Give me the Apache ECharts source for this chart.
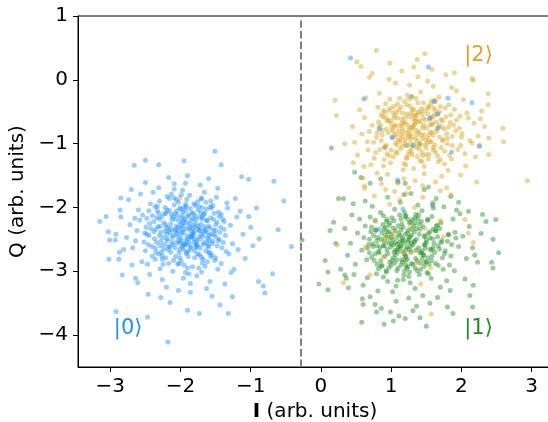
<!DOCTYPE html>
<html><head><meta charset="utf-8">
<script src="https://cdn.jsdelivr.net/npm/echarts@6/dist/echarts.min.js"></script>
<style>html,body{margin:0;padding:0;background:#fff}#c{width:548px;height:422px}</style>
</head><body><div id="c"></div>
<script>
// ---- data ----
const xTicks = [-3, -2, -1, 0, 1, 2, 3];
const yTicks = [-4, -3, -2, -1, 0, 1];
const threshold = -0.29;
const ketLabels = ['|0\u27E9', '|1\u27E9', '|2\u27E9'];
const ketPos = [[-2.95, -3.9], [2.04, -3.9], [2.04, 0.38]];

// |0> (blue)
const zeroPts = [
[-1.51,-1.12],[-2.50,-1.26],[-2.66,-1.34],[-1.95,-1.27],[-2.31,-1.33],[-3.15,-2.22],[-3.06,-2.14],[-3.03,-2.38],[-3.02,-2.81],[-2.83,-3.06],
[-2.92,-3.63],[-2.18,-4.11],[-2.47,-3.72],[-1.90,-3.61],[-1.73,-3.66],[-1.32,-3.66],[-1.44,-3.53],[-0.80,-3.34],[-0.69,-3.04],[-0.42,-2.61],
[-0.53,-1.90],[-0.67,-1.59],[-0.61,-2.35],[-1.03,-1.56],[-1.42,-1.33],[-1.13,-1.52],[-0.89,-3.16],[-0.82,-3.23],[-1.26,-3.40],[-2.46,-3.36],
[-2.64,-3.11],[-2.28,-3.41],[-2.15,-3.49],[-2.87,-2.70],[-3.01,-2.51],[-2.93,-2.51],[-2.85,-2.15],[-2.85,-1.85],[-2.70,-1.72],
[-1.87,-2.31],[-2.05,-2.12],[-1.62,-2.48],[-1.95,-2.66],[-2.21,-2.27],[-1.74,-1.98],[-1.53,-2.35],[-2.12,-2.54],[-1.80,-2.79],[-2.33,-2.05],
[-1.69,-2.18],[-1.98,-2.41],[-2.41,-2.61],[-1.46,-2.07],[-1.91,-1.87],[-2.17,-2.88],[-1.58,-2.71],[-2.02,-2.22],[-1.77,-2.52],[-2.28,-2.39],
[-1.36,-2.44],[-1.84,-2.09],[-2.09,-1.96],[-1.65,-2.92],[-2.49,-2.31],[-1.94,-2.57],[-1.71,-2.26],[-2.14,-2.70],[-1.49,-1.84],[-2.36,-2.81],
[-1.82,-2.44],[-2.01,-2.01],[-1.57,-2.16],[-2.25,-2.47],[-1.88,-3.04],[-1.66,-1.76],[-2.07,-2.36],[-1.41,-2.63],[-2.54,-2.12],[-1.73,-2.37],
[-2.19,-1.83],[-1.92,-2.24],[-1.55,-2.57],[-2.31,-2.73],[-1.79,-2.13],[-2.04,-2.89],[-1.63,-2.03],[-2.45,-2.44],[-1.86,-2.61],[-1.29,-2.28],
[-2.11,-2.15],[-1.68,-2.45],[-1.97,-1.73],[-2.38,-2.22],[-1.51,-2.83],[-1.83,-2.33],[-2.23,-2.58],[-1.60,-2.29],[-2.00,-2.48],[-1.76,-1.91],
[-2.62,-2.36],[-1.89,-2.77],[-1.44,-2.39],[-2.16,-2.05],[-1.72,-2.64],[-2.06,-2.29],[-1.33,-2.01],[-2.29,-2.96],[-1.94,-2.18],[-1.59,-2.51],
[-2.43,-1.94],[-1.81,-2.40],[-2.08,-2.63],[-1.67,-2.11],[-1.99,-2.84],[-2.35,-2.34],[-1.54,-1.97],[-1.85,-2.20],[-2.20,-2.42],[-1.70,-3.01],
[-1.93,-1.95],[-2.52,-2.54],[-1.39,-2.55],[-2.03,-2.31],[-1.78,-2.57],[-2.27,-2.14],[-1.61,-2.40],[-1.96,-3.11],[-2.13,-1.79],[-1.48,-2.23],
[-1.90,-2.49],[-2.40,-2.76],[-1.75,-2.04],[-2.10,-2.44],[-1.64,-2.68],[-2.22,-2.00],[-1.86,-2.36],[-1.42,-2.88],[-2.58,-2.20],[-1.97,-2.60],
[-1.72,-2.33],[-2.15,-2.62],[-1.57,-1.90],[-2.00,-2.16],[-1.83,-2.93],[-2.37,-2.49],[-1.50,-2.46],[-2.06,-1.88],[-1.79,-2.25],[-2.26,-2.81],
[-1.26,-2.57],[-1.95,-2.35],[-2.45,-2.05],[-1.66,-2.55],[-2.11,-3.00],[-1.87,-1.81],[-1.55,-2.75],[-2.32,-2.30],[-1.74,-2.46],[-2.02,-2.71],
[-2.68,-2.63],[-1.82,-2.17],[-1.45,-2.14],[-2.18,-2.37],[-1.91,-2.70],[-1.63,-2.20],[-2.30,-1.90],[-1.99,-2.52],[-1.69,-2.87],[-2.48,-2.42],
[-1.35,-2.69],[-2.08,-2.09],[-1.78,-2.62],[-2.24,-2.65],[-1.58,-2.32],[-1.93,-2.05],[-2.55,-2.85],[-1.71,-1.87],[-2.04,-2.45],[-1.47,-2.97],
[-2.14,-2.26],[-1.86,-3.19],[-1.60,-2.62],[-2.34,-2.16],[-1.97,-2.39],[-1.20,-2.15],[-2.72,-2.27],[-1.76,-2.73],[-2.09,-1.71],[-1.52,-2.09],
[-1.88,-2.54],[-2.21,-2.79],[-1.67,-2.37],[-2.42,-2.33],[-1.81,-1.94],[-2.01,-2.66],[-1.38,-2.34],[-2.28,-2.53],[-1.73,-2.15],[-1.95,-2.90],
[-2.60,-2.04],[-1.54,-2.53],[-2.12,-2.19],[-1.84,-2.47],[-1.31,-2.73],[-2.36,-2.64],[-1.69,-2.00],[-2.05,-2.56],[-1.89,-2.12],[-2.47,-2.89],
[-1.62,-2.85],[-1.99,-2.27],[-2.19,-2.49],[-1.45,-2.50],[-1.80,-2.68],[-2.33,-1.98],[-1.75,-2.29],[-2.64,-2.52],[-1.92,-1.98],[-1.56,-2.42],
[-2.26,-3.13],[-1.11,-2.42],[-1.97,-2.13],[-2.07,-2.77],[-1.68,-2.58],[-2.40,-2.13],[-1.85,-2.64],[-1.50,-2.27],[-2.16,-2.32],[-1.77,-3.07],
[-2.03,-2.38],[-1.64,-1.92],[-2.29,-2.60],[-1.40,-2.18],[-1.91,-2.44],[-2.50,-2.68],[-1.81,-2.55],[-2.23,-2.10],[-1.70,-2.78],[-1.99,-2.02],
[-1.18,-2.66],[-2.77,-2.47],[-1.58,-3.16],[-2.09,-1.63],[-1.34,-1.93],[-2.44,-3.05],[-1.00,-2.31],[-2.86,-2.04],[-1.93,-1.62],[-1.63,-3.27],
[-2.57,-1.79],[-1.22,-1.86],[-2.69,-2.90],[-1.08,-2.80],[-2.20,-3.25],[-1.47,-1.70],[-2.81,-2.66],[-1.72,-1.65],[-2.39,-1.76],[-1.28,-3.02],
[-1.15,-2.06],[-2.61,-3.18],[-1.86,-3.33],[-2.92,-2.42],[-0.97,-2.60],[-2.31,-1.69],[-1.55,-3.39],[-1.03,-2.14],[-2.74,-1.88],[-2.03,-3.30],
[-1.24,-2.97],[-1.90,-1.50],[-2.50,-1.61],[-0.92,-2.01],[-2.17,-1.53],[-1.60,-1.55],[-2.88,-2.81],[-1.37,-3.20],[-0.88,-2.49],[-2.65,-2.17],
[-1.83,-2.28],[-2.00,-2.33],[-1.70,-2.42],[-1.92,-2.51],[-2.15,-2.40],[-1.78,-2.19],[-1.61,-2.60],[-2.07,-2.18],[-1.88,-2.68],[-2.24,-2.24],
[-1.66,-2.30],[-1.97,-2.07],[-2.30,-2.44],[-1.52,-2.42],[-1.86,-2.02],[-2.10,-2.83],[-1.73,-2.74],[-1.96,-2.29],[-1.80,-2.50],[-2.19,-2.52],
[-1.43,-2.31],[-1.89,-2.14],[-2.05,-2.05],[-1.68,-2.81],[-2.38,-2.38],[-1.98,-2.62],[-1.75,-2.35],[-2.17,-2.61],[-1.56,-2.01],[-2.27,-2.70],
[-1.85,-2.45],[-2.03,-1.92],[-1.62,-2.21],[-2.20,-2.31],[-1.90,-2.95],[-1.70,-1.85],[-2.12,-2.47],[-1.48,-2.60],[-2.44,-2.25],[-1.79,-2.31],
[-2.09,-1.85],[-1.95,-2.20],[-1.59,-2.45],[-2.26,-2.76],[-1.82,-2.09],[-2.01,-2.79],[-1.66,-2.09],[-2.34,-2.55],[-1.90,-2.58],[-1.38,-2.22],
[-2.13,-2.11],[-1.72,-2.50],[-1.99,-1.80],[-2.30,-2.18],[-1.57,-2.77],[-1.81,-2.38],[-2.18,-2.66],[-1.64,-2.34],[-2.04,-2.52],[-1.79,-1.97],
[-2.51,-2.40],[-1.92,-2.72],[-1.50,-2.36],[-2.21,-2.09],[-1.76,-2.59],[-2.08,-2.34],[-1.42,-2.11],[-2.25,-2.89],[-1.97,-2.23],[-1.62,-2.55],
[-2.36,-1.99],[-1.84,-2.42],[-2.11,-2.58],[-1.69,-2.15],[-2.02,-2.88],[-2.29,-2.30],[-1.58,-1.99],[-1.88,-2.25],[-2.22,-2.37],[-1.74,-2.95],
[-1.94,-2.00],[-2.46,-2.58],[-1.46,-2.52],[-2.06,-2.41],[-1.77,-2.61],[-2.31,-2.09],[-1.65,-2.38],[-1.93,-3.02],[-2.16,-1.86],[-1.53,-2.19],
[-1.86,-2.46],[-2.35,-2.70],[-1.71,-2.08],[-2.13,-2.35],[-1.60,-2.71],[-2.19,-2.04],[-1.90,-2.33],[-1.50,-2.79],[-2.48,-2.17],[-2.00,-2.55],
[0.42,0.34],[1.53,0.20],[0.61,-0.30],[1.81,-0.29],[2.15,-0.36],[1.61,-0.34],[0.83,-0.77],[1.67,-0.75],[2.26,-1.03],[1.01,-0.90],
[1.66,-0.54],[1.86,-1.13],[1.09,-1.57],[1.31,-1.03],[1.55,-0.60],[1.59,-1.97],[1.17,-2.03],[0.83,-2.34]
];

// |1> (green)
const onePts = [
[-0.03,-3.20],[0.10,-3.29],[0.06,-2.83],[0.18,-2.23],[0.13,-2.36],[0.21,-2.56],[0.58,-3.80],[0.90,-3.83],[1.03,-3.78],[1.50,-3.86],
[1.41,-3.73],[1.88,-3.66],[2.16,-3.56],[1.80,-3.56],[2.45,-2.95],[2.43,-2.86],[2.53,-2.71],[2.45,-2.50],[2.49,-2.19],[2.30,-2.11],
[2.19,-2.75],[2.17,-3.22],[2.10,-2.06],[1.96,-1.92],[0.25,-1.86],[0.32,-1.86],[0.46,-1.94],[0.48,-1.45],[0.57,-1.53],[0.60,-3.52],
[0.59,-3.43],[0.79,-3.64],[1.20,-3.74],[0.34,-3.06],[0.36,-3.11],[0.39,-3.26],[0.10,-3.01],
[-0.27,-2.51],[-1.94,-2.58],[0.15,-1.07],[0.91,-1.06],[1.41,-1.00],[1.29,-0.26],[1.22,-1.03],[1.53,-1.68],[0.85,-1.55],[1.10,-1.60],
[1.20,-1.62],[0.70,-1.62],
[1.18,-2.56],[0.97,-2.38],[1.41,-2.71],[1.05,-2.87],[1.32,-2.29],[0.84,-2.63],[1.55,-2.48],[1.12,-2.12],[1.26,-3.01],[0.91,-2.77],
[1.47,-2.92],[1.02,-2.51],[1.67,-2.60],[0.75,-2.44],[1.23,-2.81],[1.38,-2.18],[0.89,-3.09],[1.60,-2.34],[1.09,-2.66],[1.29,-2.43],
[0.68,-2.58],[1.52,-2.79],[1.15,-2.26],[0.94,-2.19],[1.80,-2.53],[1.34,-2.95],[1.06,-2.74],[1.44,-2.05],[0.80,-2.89],[1.21,-2.66],
[1.63,-2.88],[0.99,-2.62],[1.36,-2.50],[0.72,-2.31],[1.27,-3.18],[1.71,-2.24],[1.11,-2.41],[0.86,-2.50],[1.49,-2.64],[1.19,-2.08],
[0.93,-2.99],[1.58,-2.14],[1.03,-2.32],[1.40,-3.05],[0.77,-2.73],[1.85,-2.76],[1.24,-2.36],[1.14,-2.90],[0.61,-2.47],[1.53,-2.41],
[1.31,-2.59],[0.88,-2.27],[1.74,-2.97],[1.08,-2.99],[1.45,-2.30],[0.96,-2.55],[1.66,-2.46],[1.20,-2.77],[0.70,-2.15],[1.37,-2.84],
[1.01,-2.16],[1.57,-3.11],[1.16,-2.48],[0.82,-2.96],[1.91,-2.39],[1.28,-2.70],[0.65,-2.82],[1.50,-2.55],[1.07,-3.23],[1.35,-2.11],
[1.77,-2.68],[0.92,-2.44],[1.22,-2.95],[1.62,-2.70],[0.74,-2.57],[1.43,-2.22],[1.13,-2.62],[0.98,-2.86],[1.96,-2.61],[1.25,-2.51],
[0.85,-2.08],[1.54,-2.89],[1.04,-2.70],[1.69,-2.33],[1.30,-2.19],[0.58,-2.67],[1.17,-3.13],[1.46,-2.74],[0.90,-2.34],[2.02,-2.45],
[1.10,-2.29],[1.39,-2.63],[0.79,-3.04],[1.60,-2.01],[1.20,-2.42],[0.95,-3.16],[1.83,-2.90],[1.33,-2.38],[0.71,-2.38],[1.51,-3.02],
[1.26,-2.24],[0.83,-2.71],[1.72,-2.52],[1.05,-2.03],[1.42,-2.97],[0.63,-2.29],[1.15,-2.82],[1.88,-2.18],[1.00,-2.47],[1.56,-2.65],
[1.34,-3.27],[0.87,-2.40],[1.64,-2.37],[1.21,-2.13],[0.76,-2.83],[1.47,-2.46],[1.09,-2.58],[2.07,-2.80],[1.29,-2.88],[0.94,-2.66],
[0.52,-2.40],[1.79,-3.15],[1.38,-1.96],[0.66,-3.10],[2.11,-2.30],[1.02,-3.32],[1.59,-1.94],[0.49,-2.89],[1.90,-2.99],[1.13,-1.92],
[0.81,-3.31],[1.70,-3.25],[0.55,-2.18],[2.16,-2.63],[1.25,-3.42],[0.73,-1.98],[1.45,-3.38],[1.98,-2.10],[0.42,-2.56],[1.07,-3.47],
[1.64,-1.86],[0.60,-3.22],[2.23,-2.86],[0.95,-1.84],[1.84,-3.30],[0.38,-2.75],[1.36,-3.55],[1.75,-1.99],[0.70,-3.40],[1.18,-1.80],
[2.28,-2.41],[0.47,-3.05],[1.55,-3.50],[0.86,-3.58],[1.93,-2.04],[1.28,-1.78],[0.34,-2.33],[2.05,-3.12],[0.99,-3.64],[1.66,-3.41],
[0.44,-2.12],[1.11,-3.70],[2.35,-2.22],[0.63,-1.90],[1.47,-1.72],[0.28,-2.97],[2.12,-3.38],[0.77,-3.52],[1.85,-1.83],[1.31,-3.62],
[1.14,-2.35],[1.49,-2.86],[0.90,-2.60],[1.27,-2.61],[1.61,-2.56],[1.03,-2.79],[1.40,-2.42],[0.80,-2.52],[1.19,-2.99],[1.73,-2.79],
[0.97,-2.28],[1.33,-2.52],[1.52,-2.20],[0.69,-2.71],[1.23,-2.18],[1.08,-2.47],[1.44,-2.80],[0.87,-2.91],[1.66,-2.28],[1.16,-2.69],
[1.36,-2.33],[0.78,-2.36],[1.58,-2.76],[1.00,-2.90],[1.25,-2.47],[1.12,-2.54],[1.81,-2.43],[0.93,-2.22],[1.48,-2.58],[1.20,-2.83],
[1.15,-2.52],[1.00,-2.42],[1.36,-2.67],[1.08,-2.82],[1.29,-2.34],[0.89,-2.60],[1.50,-2.51],[1.14,-2.18],[1.24,-2.93],[0.95,-2.72],
[1.42,-2.87],[1.06,-2.55],[1.60,-2.63],[0.81,-2.47],[1.21,-2.76],[1.34,-2.24],[0.93,-3.01],[1.55,-2.38],[1.11,-2.63],[1.27,-2.46],
[0.74,-2.61],[1.46,-2.75],[1.17,-2.31],[0.98,-2.24],[1.71,-2.55],[1.31,-2.89],[1.09,-2.70],[1.39,-2.12],[0.85,-2.84],[1.22,-2.62],
[1.57,-2.83],[1.03,-2.59],[1.33,-2.54],[0.78,-2.35],[1.25,-3.08],[1.64,-2.29],[1.13,-2.44],[0.90,-2.53],[1.44,-2.68],[1.20,-2.14],
[0.97,-2.94],[1.52,-2.19],[1.06,-2.36],[1.37,-2.99],[0.82,-2.69],[1.76,-2.72],[1.23,-2.40],[1.16,-2.86],[0.69,-2.50],[1.48,-2.44],
[1.29,-2.56],[0.92,-2.31],[1.67,-2.91],[1.10,-2.95],[1.41,-2.34],[1.00,-2.57],[1.59,-2.49],[1.19,-2.73],[0.77,-2.20],[1.35,-2.80],
[1.04,-2.21],[1.53,-3.04],[1.18,-2.51],[0.86,-2.92],[1.82,-2.42],[1.26,-2.66],[0.72,-2.78],[1.47,-2.59],[1.09,-3.14],[1.34,-2.16],
[1.69,-2.65],[0.95,-2.47],[1.21,-2.90],[1.57,-2.67],[0.80,-2.60],[1.40,-2.26],[1.14,-2.60],[1.01,-2.83],[1.86,-2.58],[1.24,-2.54],
[0.89,-2.13],[1.50,-2.85],[1.06,-2.67],[1.63,-2.36],[1.28,-2.23],[0.66,-2.64],[1.18,-3.06],[1.43,-2.71],[0.94,-2.38],[1.92,-2.48]
];

// |2> (orange)
const twoPts = [
[0.79,0.46],[0.20,-0.32],[0.22,-0.56],[0.34,-1.00],[0.51,0.28],[0.57,0.21],[0.98,0.26],[1.37,0.32],[1.48,0.41],[2.59,-0.76],
[2.60,-0.97],[2.39,-1.17],[2.39,-0.91],[2.94,-1.58],[2.22,-1.60],[2.38,-0.39],[2.17,-0.01],[2.15,0.02],[0.46,-1.30],[0.60,-1.54],
[0.62,-1.66],[1.79,-1.69],
[0.32,-3.18],[1.57,-3.67],[2.17,-2.55],[2.10,-2.40],[2.05,-2.19],[1.74,-2.46],[0.70,-3.06],[0.23,-2.59],[-2.01,-1.85],
[0.76,-1.82],[1.12,-1.88],[1.45,-1.84],[1.60,-1.92],[0.98,-1.95],[1.33,-2.00],[1.85,-1.80],[0.62,-1.70],[1.25,-1.69],[1.05,-1.75],
[1.01,-2.44],[0.91,-2.49],[1.18,-2.71],[1.33,-2.68],[1.38,-2.87],[1.48,-2.33],[1.27,-2.31],[1.04,-2.40],[0.78,-2.22],[1.56,-2.95],
[0.88,-2.78],[1.70,-2.20],[0.63,-2.62],[1.42,-3.20],
[1.33,-0.78],[1.15,-0.62],[1.52,-0.91],[1.08,-1.02],[1.61,-0.55],[1.27,-0.41],[0.96,-0.83],[1.44,-1.14],[1.72,-0.74],[1.20,-0.95],
[1.39,-0.66],[0.88,-0.58],[1.57,-0.33],[1.03,-1.21],[1.80,-1.00],[1.24,-0.71],[1.48,-0.48],[0.79,-0.90],[1.66,-1.19],[1.11,-0.47],
[1.36,-1.06],[1.93,-0.63],[1.01,-0.75],[1.55,-0.71],[1.18,-1.31],[0.92,-0.37],[1.70,-0.42],[1.29,-0.89],[1.46,-0.60],[1.06,-0.99],
[2.01,-0.84],[1.22,-0.53],[0.84,-1.09],[1.62,-1.02],[1.35,-0.29],[1.13,-0.86],[1.78,-0.58],[0.99,-0.64],[1.41,-1.27],[1.58,-0.82],
[1.26,-1.12],[0.73,-0.71],[1.87,-0.89],[1.09,-0.38],[1.50,-1.07],[1.31,-0.61],[1.68,-0.27],[0.94,-1.16],[1.21,-0.83],[1.83,-1.18],
[1.43,-0.45],[1.05,-0.56],[1.64,-0.66],[0.87,-0.79],[1.37,-0.96],[2.08,-0.52],[1.17,-1.41],[1.53,-1.24],[0.97,-0.48],[1.74,-0.94],
[1.28,-0.52],[1.60,-0.87],[0.81,-0.43],[1.12,-0.72],[1.95,-1.09],[1.40,-0.83],[1.02,-0.91],[1.69,-0.50],[1.23,-0.24],[1.47,-1.36],
[0.90,-1.25],[1.56,-0.39],[1.16,-1.04],[1.89,-0.71],[1.34,-0.68],[0.75,-0.98],[1.63,-1.13],[1.19,-0.34],[2.12,-0.95],[1.45,-0.75],
[1.00,-0.69],[1.76,-1.32],[1.30,-1.18],[0.86,-0.55],[1.59,-0.58],[1.14,-0.93],[1.82,-0.39],[1.38,-0.51],[0.69,-0.81],[1.51,-0.99],
[1.25,-0.87],[1.97,-0.76],[1.07,-1.13],[1.65,-0.81],[0.93,-1.03],[1.42,-0.19],[1.19,-0.60],[2.05,-1.16],[1.32,-1.39],[0.82,-0.66],
[1.54,-1.17],[1.10,-0.80],[1.73,-0.64],[1.36,-0.85],[0.98,-0.30],[1.85,-0.55],[1.27,-1.00],[1.61,-0.44],[0.89,-1.35],[1.44,-0.92],
[1.08,-0.51],[2.18,-0.68],[1.49,-0.63],[0.78,-1.14],[1.35,-0.56],[1.79,-0.85],[1.16,-0.76],[1.67,-1.28],[0.95,-0.63],[1.40,-1.02],
[1.22,-1.23],[1.58,-0.70],[0.66,-0.97],[1.90,-0.46],[1.31,-0.73],[1.04,-0.42],[1.71,-1.06],[1.46,-0.36],[0.85,-0.71],[2.24,-0.88],
[1.13,-1.08],[1.52,-0.53],[1.28,-0.93],[0.91,-0.51],[1.76,-0.77],[1.37,-1.20],[1.05,-0.85],[1.99,-1.03],[1.63,-0.34],[1.20,-0.67],
[0.76,-1.23],[1.43,-0.87],[1.86,-1.24],[1.12,-0.29],[1.55,-0.97],[0.99,-1.30],[1.30,-0.46],[2.10,-0.60],[1.68,-0.71],[1.24,-1.17],
[0.62,-0.59],[1.47,-1.47],[0.83,-0.21],[2.03,-0.31],[1.18,-1.55],[1.81,-1.42],[0.71,-1.33],[1.60,-0.10],[1.34,-1.58],[2.20,-1.21],
[0.58,-0.85],[1.06,-0.05],[1.93,-0.17],[0.95,-1.48],[2.29,-0.49],[1.52,-0.02],[0.67,-1.10],[1.26,-0.08],[1.72,-1.51],[2.15,-0.99],
[0.55,-0.47],[1.38,0.05],[0.80,-1.46],[2.33,-0.73],[1.09,-1.62],[1.86,-0.12],[0.64,-0.28],[1.63,-1.60],[2.06,-1.35],[0.97,0.01],
[1.45,-1.66],[0.73,0.10],[2.25,-1.05],[0.52,-1.18],[1.78,0.08],[1.15,0.14],[2.38,-0.22],[0.86,-1.63],[1.58,0.16],[0.45,-0.73],
[1.99,-1.49],[1.21,-1.78],[0.61,-1.36],[2.27,-0.61],[0.69,0.04],[1.32,0.20],[1.90,0.11],[0.92,-1.72],[1.70,-1.74],[0.48,-0.98],
[1.30,-0.74],[1.18,-0.68],[1.47,-0.86],[1.12,-0.97],[1.56,-0.60],[1.32,-0.47],[1.02,-0.80],[1.40,-1.08],[1.65,-0.77],[1.24,-0.90],
[1.36,-0.62],[0.95,-0.65],[1.53,-0.42],[1.08,-1.15],[1.73,-0.95],[1.27,-0.76],[1.44,-0.53],[0.87,-0.86],[1.60,-1.10],[1.16,-0.52],
[1.33,-1.01],[1.84,-0.67],[1.06,-0.71],[1.50,-0.76],[1.22,-1.22],[0.99,-0.44],[1.63,-0.48],[1.27,-0.84],[1.42,-0.65],[1.10,-0.94],
[1.92,-0.80],[1.25,-0.58],[0.91,-1.04],[1.57,-0.97],[1.38,-0.36],[1.16,-0.81],[1.71,-0.62],[1.04,-0.60],[1.45,-1.19],[1.54,-0.86],
[1.29,-1.06],[0.83,-0.74],[1.80,-0.92],[1.14,-0.43],[1.48,-1.02],[1.34,-0.64],[1.62,-0.32],[1.00,-1.10],[1.25,-0.79],[1.76,-1.12],
[1.41,-0.50],[1.09,-0.60],[1.59,-0.69],[0.93,-0.77],[1.35,-0.92],[1.98,-0.57],[1.21,-1.33],[1.50,-1.17],[1.03,-0.52],[1.69,-0.90],
[1.31,-0.55],[1.56,-0.82],[0.89,-0.48],[1.15,-0.69],[1.87,-1.03],[1.38,-0.80],[1.06,-0.88],[1.66,-0.53],[1.26,-0.30],[1.44,-1.28],
[0.97,-1.19],[1.53,-0.45],[1.19,-1.00],[1.82,-0.74],[1.33,-0.70],[0.86,-0.95],[1.60,-1.06],[1.22,-0.39],[2.00,-0.90],[1.46,-0.71],
[1.05,-0.73],[1.70,-1.25],[1.29,-1.13],[0.92,-0.59],[1.55,-0.62],[1.17,-0.89],[1.77,-0.44],[1.36,-0.55],[0.80,-0.83],[1.49,-0.94]
];

// ---- chart ----
const FONT = 'DejaVu Sans';
const colBlue = '#1E90FF', colOrange = '#DAA520', colGreen = '#228B22';
const ketColors = [colBlue, colGreen, colOrange];
const minus = v => String(v).replace('-', '\u2212');

const chart = echarts.init(document.getElementById('c'), null, {renderer: 'canvas'});
const dotStyle = c => ({color: c, opacity: 0.45, borderWidth: 0});

chart.setOption({
  animation: false,
  backgroundColor: '#fff',
  textStyle: {fontFamily: FONT},
  grid: {left: 78, right: -4, top: 16, bottom: 55, show: true, borderColor: '#000', borderWidth: 1,
         containLabel: false, outerBoundsMode: 'none'},
  xAxis: {
    type: 'value', min: -3.46, max: 3.29,
    name: '{b|I} (arb. units)', nameLocation: 'middle', nameGap: 33,
    nameTextStyle: {fontFamily: FONT, fontSize: 20, color: '#000',
      rich: {b: {fontFamily: FONT, fontSize: 20, fontWeight: 'bold', color: '#000'}}},
    axisLine: {show: true, onZero: false, lineStyle: {color: '#000', width: 1}},
    axisTick: {show: true, inside: false, length: 5, customValues: xTicks, lineStyle: {color: '#000'}},
    axisLabel: {customValues: xTicks, formatter: minus, fontFamily: FONT, fontSize: 20, color: '#000', margin: 10},
    splitLine: {show: false}
  },
  yAxis: {
    type: 'value', min: -4.5, max: 1,
    name: 'Q (arb. units)', nameLocation: 'middle', nameGap: 46, nameRotate: 90,
    nameTextStyle: {fontFamily: FONT, fontSize: 20, color: '#000'},
    axisLine: {show: true, onZero: false, lineStyle: {color: '#000', width: 1}},
    axisTick: {show: true, inside: false, length: 5, customValues: yTicks, lineStyle: {color: '#000'}},
    axisLabel: {customValues: yTicks, formatter: minus, fontFamily: FONT, fontSize: 20, color: '#000', margin: 10},
    splitLine: {show: false}
  },
  series: [
    {type: 'scatter', name: '|1>', data: onePts, symbolSize: 5, itemStyle: dotStyle(colGreen), silent: true},
    {type: 'scatter', name: '|2>', data: twoPts, symbolSize: 5, itemStyle: dotStyle(colOrange), silent: true},
    {type: 'scatter', name: '|0>', data: zeroPts, symbolSize: 5, itemStyle: dotStyle(colBlue), silent: true,
      markLine: {silent: true, symbol: ['none', 'none'], label: {show: false},
        lineStyle: {color: '#808080', type: [7.4, 3.2], width: 2},
        data: [{xAxis: threshold}]}},
    {type: 'scatter', symbolSize: 0, silent: true, itemStyle: {opacity: 1},
      data: ketLabels.map((t, i) => ({value: ketPos[i], name: t,
        label: {show: true, formatter: t, color: ketColors[i], opacity: 1, textBorderWidth: 0,
          position: 'right', distance: 0,
          align: 'left', verticalAlign: 'middle', fontFamily: FONT, fontSize: 21}}))}
  ]
});
</script></body></html>
